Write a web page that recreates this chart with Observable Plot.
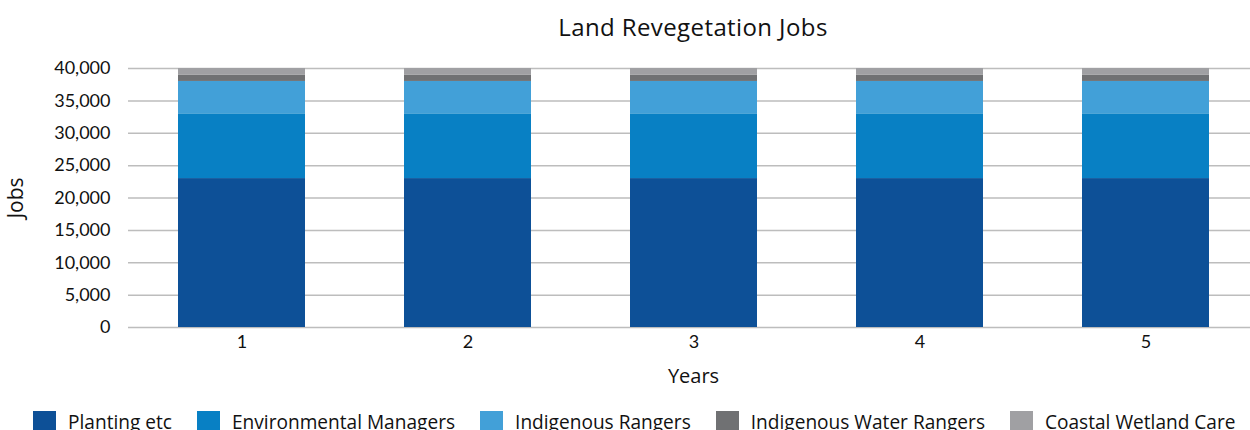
<!DOCTYPE html>
<html>
<head>
<meta charset="utf-8">
<script src="https://cdn.jsdelivr.net/npm/d3@7"></script>
<script src="https://cdn.jsdelivr.net/npm/@observablehq/plot@0.6"></script>
<style>
  html, body { margin: 0; padding: 0; background: #fff; overflow: hidden; }
  body { width: 1250px; height: 430px; font-family: "Open Sans", Lato, sans-serif; color: #111; }
  #title { height: 50px; line-height: 54px; text-align: center; font-size: 24px; letter-spacing: 0.4px; padding-left: 136px; box-sizing: border-box; }
  #chart svg { display: block; overflow: visible; }
  #legend { display: flex; align-items: flex-start; margin-top: 11px; padding-left: 33px; font-size: 19.1px; white-space: nowrap; }
  .item { display: flex; align-items: flex-start; margin-right: 25px; }
  .sw { width: 23px; height: 20px; margin-right: 12px; }
  .lab { line-height: 22px; margin-top: 0px; }
</style>
</head>
<body>
<div id="title">Land Revegetation Jobs</div>
<div id="chart"></div>
<div id="legend"></div>
<script>
const years = [1, 2, 3, 4, 5];
const seriesNames = ["Planting etc", "Environmental Managers", "Indigenous Rangers", "Indigenous Water Rangers", "Coastal Wetland Care"];
const seriesColors = ["#0d5097", "#0880c4", "#42a0d8", "#707173", "#a0a0a3"];
const plantingEtc = [23000, 23000, 23000, 23000, 23000];
const environmentalManagers = [10000, 10000, 10000, 10000, 10000];
const indigenousRangers = [5000, 5000, 5000, 5000, 5000];
const indigenousWaterRangers = [1000, 1000, 1000, 1000, 1000];
const coastalWetlandCare = [1000, 1000, 1000, 1000, 1000];
const yTicks = [0, 5000, 10000, 15000, 20000, 25000, 30000, 35000, 40000];
const xLabel = "Years";
const yLabel = "Jobs";

const seriesValues = [plantingEtc, environmentalManagers, indigenousRangers, indigenousWaterRangers, coastalWetlandCare];
const data = [];
seriesNames.forEach((s, i) => years.forEach((y, j) => data.push({year: y, series: s, value: seriesValues[i][j]})));

const chart = Plot.plot({
  width: 1250,
  height: 350,
  marginLeft: 128,
  marginRight: -8,
  marginTop: 18,
  marginBottom: 73,
  style: {fontFamily: "Lato, 'Open Sans', sans-serif", fontSize: "18px", color: "#111", background: "transparent"},
  x: {domain: years, paddingInner: 0.44, paddingOuter: 0.22, label: null},
  y: {domain: [0, 40000], label: null},
  color: {domain: seriesNames, range: seriesColors},
  marks: [
    Plot.ruleY(yTicks, {stroke: "#bdbdbd", strokeWidth: 1.5}),
    Plot.barY(data, {x: "year", y: "value", fill: "series", order: seriesNames}),
    Plot.axisY(yTicks, {tickSize: 0, tickPadding: 18, tickFormat: d3.format(","), label: null, fontSize: 18}),
    Plot.axisX({tickSize: 0, tickPadding: 8, label: null, fontSize: 18}),
    Plot.text([yLabel], {frameAnchor: "left", textAnchor: "middle", rotate: -90, dx: -112, fontSize: 21, fontFamily: "'Open Sans', sans-serif", fill: "#111"}),
    Plot.text([xLabel], {frameAnchor: "bottom", dy: 55, fontSize: 20, fontFamily: "'Open Sans', sans-serif", fill: "#111"})
  ]
});
document.getElementById("chart").appendChild(chart);

const legend = document.getElementById("legend");
seriesNames.forEach((s, i) => {
  const item = document.createElement("div");
  item.className = "item";
  const sw = document.createElement("div");
  sw.className = "sw";
  sw.style.background = seriesColors[i];
  const lab = document.createElement("div");
  lab.className = "lab";
  lab.textContent = s;
  item.appendChild(sw);
  item.appendChild(lab);
  legend.appendChild(item);
});
</script>
</body>
</html>
